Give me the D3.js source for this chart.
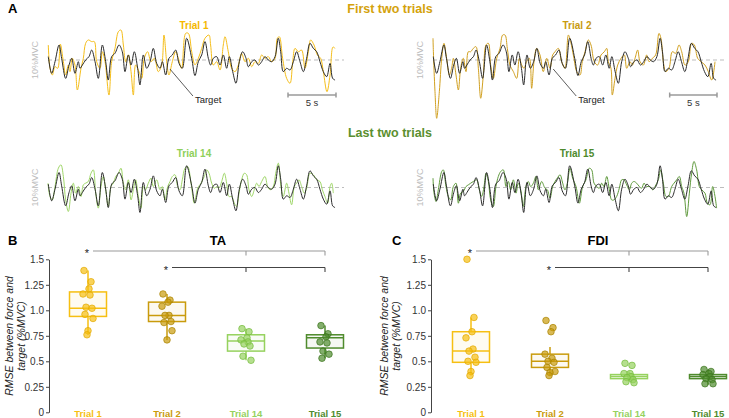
<!DOCTYPE html>
<html>
<head>
<meta charset="utf-8">
<script src="https://cdn.jsdelivr.net/npm/d3@7"></script>
<style>
  html, body { margin: 0; padding: 0; background: #fff; }
  svg { display: block; font-family: "Liberation Sans", Arial, sans-serif; }
</style>
</head>
<body>
<svg id="fig"></svg>
<script>
// ---- panel A: force traces, [time (s), force (%MVC)] ----
const target = [[0.03,10.28],[0.38,8.89],[0.73,9.86],[1.15,11.25],[1.42,10.14],[1.84,8.47],[2.19,9.58],[2.47,10.14],[2.81,8.89],[3.16,9.86],[3.33,9.31],[3.58,9.58],[3.92,10.0],[4.27,10.28],[4.55,10.83],[4.90,9.86],[5.24,8.47],[5.66,11.25],[6.01,9.86],[6.28,8.33],[6.63,10.28],[6.98,10.56],[7.40,11.25],[7.74,10.69],[8.02,9.03],[8.37,10.42],[8.65,9.58],[8.99,10.69],[9.34,9.31],[9.58,7.92],[9.93,10.42],[10.28,9.31],[10.63,9.86],[10.97,10.97],[11.32,9.72],[11.67,9.31],[11.91,9.86],[12.26,8.75],[12.60,10.14],[12.95,10.42],[13.30,10.83],[13.65,9.72],[13.99,9.31],[14.44,11.81],[14.97,10.14],[15.31,8.7],[15.66,9.86],[16.01,10.42],[16.35,11.53],[16.70,10.14],[16.94,9.58],[17.22,10.14],[17.57,10.28],[17.92,9.58],[18.26,10.42],[18.61,9.31],[18.89,10.28],[19.24,9.03],[19.58,8.06],[19.93,9.86],[20.28,10.69],[20.63,10.14],[20.87,9.44],[21.22,9.86],[21.56,10.0],[21.91,9.58],[22.26,9.86],[22.60,10.28],[22.95,10.0],[23.30,9.86],[23.65,10.28],[23.99,11.81],[24.24,10.69],[24.51,9.03],[24.86,9.31],[25.21,9.17],[25.56,9.86],[25.90,10.69],[26.25,9.86],[26.60,9.03],[26.94,10.14],[27.29,11.39],[27.64,10.97],[27.99,10.69],[28.33,9.86],[28.68,9.03],[29.03,8.61],[29.38,9.72],[29.65,8.47],[29.90,8.33]];

const trial1 = [[0.03,11.25],[0.21,9.31],[0.45,8.75],[0.73,9.44],[1.01,9.31],[1.28,11.33],[1.60,9.86],[1.84,8.75],[2.12,9.58],[2.29,9.03],[2.53,10.14],[2.81,9.58],[3.06,7.5],[3.44,9.31],[3.68,10.14],[3.92,11.39],[4.20,11.67],[4.55,11.53],[4.83,11.53],[5.07,9.86],[5.42,9.31],[5.66,10.69],[5.94,9.86],[6.35,7.08],[6.63,9.86],[6.98,10.97],[7.33,12.36],[7.60,12.5],[7.85,11.25],[8.09,9.86],[8.37,10.42],[8.65,9.03],[8.89,7.08],[9.13,9.58],[9.48,9.03],[9.76,8.47],[10.03,10.14],[10.38,10.69],[10.73,9.86],[11.08,10.14],[11.49,9.03],[11.84,9.58],[12.08,12.08],[12.36,9.86],[12.60,8.75],[12.95,9.86],[13.30,10.69],[13.58,10.14],[13.92,9.31],[14.34,12.22],[14.62,12.22],[14.97,10.69],[15.31,9.6],[15.66,10.14],[16.01,10.97],[16.35,11.81],[16.77,12.08],[16.94,11.25],[17.22,9.58],[17.57,9.86],[17.92,9.17],[18.26,11.25],[18.44,11.94],[18.78,10.69],[19.13,9.31],[19.48,9.03],[19.83,9.58],[20.17,10.56],[20.52,9.86],[20.87,10.14],[21.22,9.44],[21.56,9.86],[21.91,9.72],[22.26,10.42],[22.60,10.14],[22.95,10.28],[23.30,9.86],[23.65,10.14],[23.89,11.81],[24.10,11.94],[24.44,10.14],[24.86,8.47],[25.21,8.06],[25.49,9.86],[25.73,10.97],[26.08,10.69],[26.42,10.83],[26.77,9.31],[27.12,10.69],[27.36,11.67],[27.71,11.25],[28.06,10.42],[28.40,10.14],[28.68,9.03],[29.06,7.36],[29.38,8.75],[29.69,11.08],[29.90,10.97]];

const trial2 = [[0.0,11.81],[0.04,10.69],[0.21,7.36],[0.39,5.14],[0.67,7.36],[0.92,10.14],[1.16,11.39],[1.44,10.14],[1.73,8.75],[1.97,9.31],[2.15,10.14],[2.43,8.75],[2.68,7.5],[2.92,9.31],[3.20,10.14],[3.49,9.03],[3.73,10.69],[3.98,10.69],[4.26,10.97],[4.54,11.11],[4.79,9.31],[5.04,6.81],[5.32,8.75],[5.60,11.25],[5.85,11.39],[6.09,9.58],[6.37,8.47],[6.73,10.14],[7.08,10.97],[7.36,12.08],[7.61,12.08],[7.85,10.97],[8.13,9.58],[8.49,9.03],[8.84,8.47],[9.12,10.14],[9.37,9.58],[9.61,9.31],[9.89,9.86],[10.18,10.14],[10.42,7.64],[10.67,9.86],[10.95,10.97],[11.30,10.42],[11.65,9.03],[12.01,10.14],[12.36,9.31],[12.64,10.42],[12.89,10.69],[13.24,10.97],[13.59,9.86],[13.94,9.31],[14.30,12.08],[14.54,11.53],[14.89,10.14],[15.18,9.03],[15.53,8.75],[15.77,9.86],[16.06,10.69],[16.41,11.67],[16.69,11.25],[17.04,9.86],[17.39,9.58],[17.75,10.42],[18.10,10.69],[18.35,10.97],[18.52,9.86],[18.80,9.31],[18.94,7.08],[19.23,8.47],[19.51,9.58],[19.86,10.14],[20.21,10.42],[20.46,9.31],[20.81,9.86],[21.06,9.58],[21.34,10.14],[21.62,10.83],[21.87,9.86],[22.22,9.58],[22.57,10.42],[22.82,9.86],[23.17,10.14],[23.52,10.42],[23.87,12.22],[24.08,11.81],[24.33,9.86],[24.58,9.03],[24.93,9.31],[25.28,10.69],[25.63,10.56],[25.99,11.25],[26.27,10.69],[26.62,9.58],[26.97,9.86],[27.32,11.39],[27.61,11.25],[27.96,10.14],[28.31,9.86],[28.73,9.58],[29.08,9.03],[29.44,8.33],[29.79,9.86]];

const trial14 = [[0.0,10.36],[0.21,9.25],[0.45,8.97],[0.73,10.08],[1.08,11.61],[1.35,11.89],[1.60,10.92],[1.84,8.97],[2.12,8.0],[2.40,9.53],[2.64,10.36],[2.88,9.53],[3.16,10.08],[3.44,9.25],[3.68,10.22],[3.92,10.36],[4.20,10.5],[4.48,11.19],[4.72,11.47],[4.97,9.53],[5.24,8.28],[5.52,10.08],[5.76,10.92],[6.01,9.81],[6.28,8.42],[6.56,10.08],[6.81,10.36],[7.05,10.92],[7.33,11.19],[7.60,11.61],[7.85,10.36],[8.09,9.81],[8.37,10.64],[8.65,8.97],[8.89,9.81],[9.13,10.64],[9.41,9.25],[9.69,8.28],[9.93,10.08],[10.17,9.81],[10.45,10.36],[10.73,10.78],[10.97,10.08],[11.32,10.64],[11.67,9.81],[11.91,10.08],[12.19,8.97],[12.47,10.08],[12.71,10.5],[12.95,10.92],[13.23,11.06],[13.51,10.08],[13.75,9.81],[13.99,10.64],[14.27,11.61],[14.55,11.75],[14.90,10.36],[15.24,8.69],[15.59,9.94],[15.94,10.36],[16.28,10.92],[16.53,11.47],[16.77,11.19],[17.05,10.36],[17.33,9.94],[17.57,10.08],[17.81,9.94],[18.09,10.5],[18.37,11.19],[18.61,10.36],[18.85,9.25],[19.13,9.25],[19.41,8.69],[19.65,8.42],[19.90,9.53],[20.17,10.64],[20.45,11.19],[20.69,11.06],[20.94,9.81],[21.22,9.25],[21.49,9.81],[21.74,10.36],[21.98,10.08],[22.26,10.5],[22.60,10.92],[22.88,10.08],[23.13,9.81],[23.47,10.08],[23.72,11.19],[23.99,12.03],[24.27,10.08],[24.51,9.25],[24.86,10.36],[25.10,9.53],[25.38,8.56],[25.66,10.08],[25.90,10.36],[26.15,10.64],[26.42,10.08],[26.70,9.53],[26.94,9.94],[27.29,11.19],[27.64,11.06],[27.99,10.64],[28.33,10.5],[28.58,9.81],[28.85,9.25],[29.13,8.69],[29.38,10.08],[29.55,10.36],[29.72,9.53]];

const trial15 = [[0.0,10.78],[0.11,9.53],[0.32,8.83],[0.56,9.81],[0.92,11.33],[1.09,11.47],[1.37,10.08],[1.62,9.25],[1.87,8.97],[2.15,10.08],[2.43,10.36],[2.68,8.69],[2.92,9.53],[3.20,9.67],[3.49,10.08],[3.73,10.22],[3.98,10.36],[4.26,10.5],[4.61,10.64],[4.89,9.81],[5.14,9.25],[5.39,10.08],[5.60,11.19],[5.85,10.5],[6.09,8.97],[6.37,8.42],[6.65,10.08],[6.90,10.92],[7.15,11.33],[7.43,11.47],[7.71,10.08],[7.96,10.5],[8.20,9.81],[8.49,10.64],[8.77,9.53],[9.01,10.36],[9.26,9.81],[9.54,8.42],[9.82,10.08],[10.07,10.5],[10.32,10.08],[10.60,10.36],[10.88,10.92],[11.13,9.81],[11.48,10.5],[11.83,9.94],[12.08,9.81],[12.36,9.11],[12.64,10.08],[12.89,10.5],[13.13,10.78],[13.42,11.06],[13.70,10.36],[13.94,9.81],[14.19,10.36],[14.47,11.61],[14.75,10.78],[15.11,10.08],[15.46,8.69],[15.81,10.08],[16.16,10.64],[16.51,11.61],[16.76,11.47],[17.01,10.36],[17.29,10.08],[17.57,9.94],[17.82,10.36],[18.06,10.08],[18.35,10.92],[18.63,9.81],[18.87,8.97],[19.12,8.97],[19.40,9.25],[19.68,9.94],[19.93,10.64],[20.18,10.64],[20.46,10.22],[20.74,9.81],[20.99,10.36],[21.23,10.5],[21.51,10.36],[21.80,10.08],[22.04,9.94],[22.29,10.36],[22.57,10.08],[22.92,10.08],[23.20,9.81],[23.45,10.08],[23.80,10.64],[24.05,11.47],[24.33,10.36],[24.61,9.25],[24.86,9.25],[25.21,10.08],[25.46,10.36],[25.74,10.64],[26.02,10.92],[26.27,10.08],[26.51,9.53],[26.80,7.58],[27.08,9.53],[27.32,11.19],[27.57,12.17],[27.85,11.47],[28.13,10.08],[28.38,9.81],[28.73,9.53],[28.98,8.69],[29.26,8.56],[29.54,10.08],[29.79,9.25],[29.96,8.28]];

// ---- panels B and C: RMSE (%MVC) ----
const trials = ["Trial 1", "Trial 2", "Trial 14", "Trial 15"];
const trialColors = ["#f6bf12", "#c99b0c", "#96d25e", "#4f8b2d"];
const trialStrokes = ["#e2a900", "#a98200", "#76bb3d", "#3b741c"];
const yTicks = [0, 0.25, 0.5, 0.75, 1.0, 1.25, 1.5];
const yTickLabels = ["0", "0.25", "0.5", "0.75", "1.0", "1.25", "1.5"];

const taPoints = [
  [1.39, 1.28, 1.21, 1.16, 1.15, 1.03, 1.02, 0.96, 0.92, 0.80, 0.76],
  [1.16, 1.10, 1.08, 1.04, 0.95, 0.95, 0.89, 0.88, 0.80, 0.71],
  [0.82, 0.79, 0.73, 0.71, 0.69, 0.67, 0.65, 0.55, 0.51],
  [0.85, 0.77, 0.74, 0.69, 0.68, 0.60, 0.57, 0.53]
];
const taLo  = [0.76, 0.71, 0.51, 0.53];
const taQ1  = [0.94, 0.89, 0.60, 0.63];
const taMed = [1.02, 0.95, 0.70, 0.73];
const taQ3  = [1.18, 1.08, 0.76, 0.76];
const taHi  = [1.39, 1.16, 0.82, 0.85];

const fdiPoints = [
  [1.50, 0.93, 0.79, 0.73, 0.62, 0.60, 0.54, 0.50, 0.49, 0.40, 0.36],
  [0.90, 0.83, 0.79, 0.57, 0.53, 0.50, 0.49, 0.44, 0.40, 0.39, 0.36],
  [0.48, 0.46, 0.38, 0.38, 0.35, 0.34, 0.32, 0.30, 0.29],
  [0.42, 0.40, 0.38, 0.37, 0.35, 0.33, 0.32, 0.28, 0.28]
];
const fdiLo  = [0.36, 0.36, 0.30, 0.27];
const fdiQ1  = [0.49, 0.44, 0.33, 0.33];
const fdiMed = [0.60, 0.50, 0.35, 0.35];
const fdiQ3  = [0.79, 0.57, 0.37, 0.37];
const fdiHi  = [0.93, 0.64, 0.40, 0.42];

// ---------------------------------------------------------
const width = 729, height = 418;
const svg = d3.select("#fig").attr("width", width).attr("height", height);

// panel letters and headings
const bold = (sel) => sel.style("font-weight", "bold");
svg.append("text").attr("x", 8).attr("y", 13).style("font-size", "13px").call(bold).text("A");
svg.append("text").attr("x", 390).attr("y", 13).attr("text-anchor", "middle")
  .style("font-size", "12.5px").style("fill", "#d4a20c").call(bold).text("First two trials");
svg.append("text").attr("x", 390).attr("y", 137).attr("text-anchor", "middle")
  .style("font-size", "12.5px").style("fill", "#5b8f2f").call(bold).text("Last two trials");

// one trace panel
function tracePanel(x0, x1, base, data, color, label, labelColor, annotate) {
  const x = d3.scaleLinear().domain([0, 30]).range([x0, x1]);
  const y = d3.scaleLinear().domain([5, 15]).range([base + 60, base - 60]);
  const g = svg.append("g");
  const line = d3.line().x(d => x(d[0])).y(d => y(d[1])).curve(d3.curveCatmullRom.alpha(0.5));

  g.append("line").attr("x1", x0).attr("x2", x1 + 8).attr("y1", y(10)).attr("y2", y(10))
    .style("stroke", "#bdbdbd").style("stroke-width", 1.1).style("stroke-dasharray", "4,3");

  g.append("path").datum(data).attr("d", line)
    .style("fill", "none").style("stroke", color).style("stroke-width", 1);
  g.append("path").datum(target).attr("d", line)
    .style("fill", "none").style("stroke", "#2b2b2b").style("stroke-width", 1);

  g.append("text").attr("transform", `translate(${x0 - 10},${y(10)}) rotate(-90)`)
    .attr("text-anchor", "middle").style("font-size", "9px").style("fill", "#bcbcbc").text("10%MVC");

  g.append("text").attr("x", (x0 + x1) / 2 + 2).attr("y", base - 31).attr("text-anchor", "middle")
    .style("font-size", "10px").style("fill", labelColor).call(bold).text(label);

  if (annotate) {
    const ax = x(12.7), ay = y(10) + 9;
    g.append("line").attr("x1", ax).attr("y1", ay).attr("x2", ax + 23).attr("y2", ay + 27)
      .style("stroke", "#333").style("stroke-width", 0.8);
    g.append("text").attr("x", ax + 25).attr("y", ay + 34)
      .style("font-size", "9.5px").style("fill", "#222").text("Target");

    const sy = y(10) + 35;
    const bar = g.append("g").style("stroke", "#9a9a9a").style("stroke-width", 1.5);
    bar.append("line").attr("x1", x(25)).attr("x2", x(30)).attr("y1", sy).attr("y2", sy);
    bar.append("line").attr("x1", x(25)).attr("x2", x(25)).attr("y1", sy - 2.5).attr("y2", sy + 2.5);
    bar.append("line").attr("x1", x(30)).attr("x2", x(30)).attr("y1", sy - 2.5).attr("y2", sy + 2.5);
    g.append("text").attr("x", x(27.5)).attr("y", sy + 11).attr("text-anchor", "middle")
      .style("font-size", "9.5px").style("fill", "#333").text("5 s");
  }
}

tracePanel(48, 336, 60, trial1, "#f5be1a", "Trial 1", "#f5b800", true);
tracePanel(433, 717, 60, trial2, "#d1a020", "Trial 2", "#c89a10", true);
tracePanel(48, 336, 187.5, trial14, "#9fd668", "Trial 14", "#8fd05a", false);
tracePanel(433, 717, 187.5, trial15, "#5f9a3c", "Trial 15", "#4e8a2c", false);

// box plot panels
const jitter = [-4, 3, 1, -5, 2, -2, 4, -3, 5, 0, -1, 3];

function boxPanel(axisX, xFirst, xLast, letter, letterX, title, titleX, labelX, pts, lo, q1, med, q3, hi) {
  const y = d3.scaleLinear().domain([0, 1.5]).range([412.3, 259.3]);
  const x = d3.scalePoint().domain(trials).range([xFirst, xLast]);
  const g = svg.append("g");
  const bw = 37;

  g.append("text").attr("x", letterX).attr("y", 245).style("font-size", "13px").call(bold).text(letter);
  g.append("text").attr("x", titleX).attr("y", 245).attr("text-anchor", "middle")
    .style("font-size", "13px").call(bold).text(title);

  const axis = d3.axisLeft(y).tickValues(yTicks).tickFormat((d, i) => yTickLabels[i])
    .tickSize(3).tickSizeOuter(0).tickPadding(2);
  const ag = g.append("g").attr("transform", `translate(${axisX},0)`).call(axis);
  ag.selectAll("text").style("font-size", "10px").style("fill", "#333")
    .style("font-family", "'Liberation Sans', Arial, sans-serif");
  ag.selectAll("line,path").style("stroke", "#444");

  const yl = g.append("text").attr("transform", `translate(${labelX},336) rotate(-90)`)
    .attr("text-anchor", "middle").style("font-size", "10.5px").style("font-style", "italic").style("fill", "#222");
  yl.append("tspan").attr("x", 0).attr("dy", 0).text("RMSE between force and");
  yl.append("tspan").attr("x", 0).attr("dy", 11.5).text("target (%MVC)");

  trials.forEach((t, i) => {
    const cx = x(t);
    const c = trialColors[i];
    g.append("line").attr("x1", cx).attr("x2", cx).attr("y1", y(q3[i])).attr("y2", y(hi[i]))
      .style("stroke", c).style("stroke-width", 1.5);
    g.append("line").attr("x1", cx).attr("x2", cx).attr("y1", y(q1[i])).attr("y2", y(lo[i]))
      .style("stroke", c).style("stroke-width", 1.5);
    g.append("rect").attr("x", cx - bw / 2).attr("y", y(q3[i])).attr("width", bw)
      .attr("height", y(q1[i]) - y(q3[i]))
      .style("fill", c).style("fill-opacity", 0.06).style("stroke", c).style("stroke-width", 1.5);
    g.append("line").attr("x1", cx - bw / 2).attr("x2", cx + bw / 2).attr("y1", y(med[i])).attr("y2", y(med[i]))
      .style("stroke", c).style("stroke-width", 1.5);

    g.selectAll(null).data(pts[i]).enter().append("circle")
      .attr("cx", (d, j) => cx + jitter[j % jitter.length])
      .attr("cy", d => y(d))
      .attr("r", 3.3)
      .style("fill", c).style("fill-opacity", 0.7)
      .style("stroke", trialStrokes[i]).style("stroke-width", 0.7);

    g.append("text").attr("x", cx).attr("y", 416.5).attr("text-anchor", "middle")
      .style("font-size", "9.5px").style("fill", c).call(bold).text(t);
  });

  // significance brackets
  const brackets = [{ from: "Trial 1", y: 251, color: "#9a9a9a" }, { from: "Trial 2", y: 267.5, color: "#444" }];
  brackets.forEach(b => {
    const sx = x(b.from);
    g.append("text").attr("x", sx - 1).attr("y", b.y + 6).attr("text-anchor", "middle")
      .style("font-size", "11px").style("fill", "#222").text("*");
    g.append("line").attr("x1", sx + 5).attr("x2", x("Trial 15")).attr("y1", b.y).attr("y2", b.y)
      .style("stroke", b.color).style("stroke-width", 1.1);
    ["Trial 14", "Trial 15"].forEach(t => {
      g.append("line").attr("x1", x(t)).attr("x2", x(t)).attr("y1", b.y).attr("y2", b.y + 4.5)
        .style("stroke", b.color).style("stroke-width", 1.1);
    });
  });
}

boxPanel(49, 88, 325, "B", 8, "TA", 218, 13, taPoints, taLo, taQ1, taMed, taQ3, taHi);
boxPanel(431, 471, 708, "C", 392, "FDI", 598, 388, fdiPoints, fdiLo, fdiQ1, fdiMed, fdiQ3, fdiHi);
</script>
</body>
</html>
